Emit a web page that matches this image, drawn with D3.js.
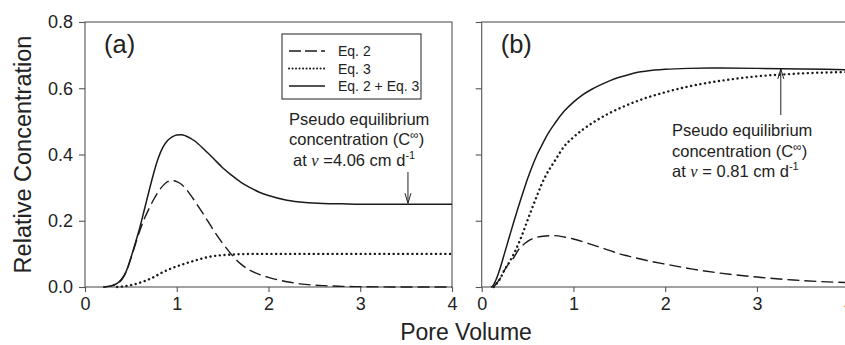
<!DOCTYPE html>
<html><head><meta charset="utf-8">
<script src="https://cdn.jsdelivr.net/npm/d3@7/dist/d3.min.js"></script>
<style>
body{margin:0;background:#fff;}
svg{display:block;font-family:"Liberation Sans",Arial,sans-serif;}
</style></head>
<body>
<svg id="chart" width="845" height="345"></svg>
<script>
// ---- data (Pore Volume, Relative Concentration) ----
const xTicks = [0, 1, 2, 3, 4];
const yTicks = [0.0, 0.2, 0.4, 0.6, 0.8];
const yTickLabels = ["0.0", "0.2", "0.4", "0.6", "0.8"];
const seriesNames = ["Eq. 2", "Eq. 3", "Eq. 2 + Eq. 3"];

// Panel (a)
const aEq2X = [0.2,0.3,0.35,0.4,0.45,0.5,0.55,0.6,0.65,0.7,0.75,0.8,0.85,0.9,0.95,1.0,1.05,1.1,1.2,1.3,1.4,1.5,1.6,1.7,1.8,1.9,2.0,2.2,2.4,2.6,2.8,3.0,3.5,4.0];
const aEq2Y = [0,0.004,0.01,0.022,0.046,0.086,0.13,0.172,0.208,0.238,0.265,0.288,0.306,0.318,0.321,0.318,0.31,0.296,0.258,0.216,0.172,0.132,0.097,0.069,0.05,0.038,0.029,0.016,0.008,0.004,0.002,0.001,0,0];
const aEq3X = [0.35,0.45,0.55,0.65,0.75,0.85,0.95,1.05,1.15,1.25,1.35,1.45,1.55,1.7,1.9,2.5,4.0];
const aEq3Y = [0,0.003,0.009,0.018,0.03,0.045,0.057,0.067,0.076,0.084,0.091,0.095,0.097,0.099,0.1,0.1,0.1];
const aSumX = [0.2,0.3,0.35,0.4,0.45,0.5,0.55,0.6,0.65,0.7,0.75,0.8,0.85,0.9,0.95,1.0,1.05,1.1,1.2,1.3,1.4,1.5,1.6,1.7,1.8,1.9,2.0,2.2,2.4,2.6,2.8,3.0,3.5,4.0];
const aSumY = [0,0.005,0.011,0.024,0.048,0.088,0.134,0.182,0.237,0.292,0.345,0.39,0.422,0.442,0.453,0.459,0.46,0.456,0.44,0.415,0.388,0.36,0.337,0.316,0.3,0.286,0.276,0.262,0.255,0.252,0.251,0.25,0.25,0.25];

// Panel (b)
const bEq2X = [0.13,0.2,0.25,0.3,0.35,0.4,0.45,0.5,0.55,0.6,0.7,0.8,0.9,1.0,1.1,1.2,1.3,1.4,1.5,1.6,1.8,2.0,2.3,2.6,3.0,3.4,4.0];
const bEq2Y = [0,0.025,0.052,0.072,0.089,0.112,0.127,0.138,0.145,0.15,0.154,0.155,0.151,0.145,0.137,0.128,0.119,0.11,0.1,0.093,0.08,0.069,0.054,0.042,0.03,0.021,0.013];
const bEq3X = [0.13,0.2,0.25,0.3,0.35,0.4,0.45,0.5,0.55,0.6,0.65,0.7,0.8,0.9,1.0,1.1,1.2,1.3,1.4,1.5,1.6,1.75,2.0,2.25,2.5,2.75,3.0,3.25,3.5,4.0];
const bEq3Y = [0,0.025,0.052,0.075,0.1,0.13,0.164,0.202,0.238,0.274,0.308,0.337,0.382,0.425,0.452,0.475,0.494,0.511,0.526,0.539,0.551,0.567,0.588,0.605,0.618,0.628,0.636,0.641,0.645,0.649];
const bSumX = [0.1,0.12,0.15,0.2,0.25,0.3,0.35,0.4,0.45,0.5,0.55,0.6,0.65,0.7,0.8,0.9,1.0,1.1,1.2,1.3,1.4,1.5,1.6,1.7,1.8,2.0,2.25,2.5,3.0,3.5,4.0];
const bSumY = [0,0.003,0.018,0.056,0.103,0.15,0.197,0.242,0.285,0.327,0.364,0.397,0.425,0.452,0.495,0.531,0.558,0.58,0.597,0.611,0.623,0.633,0.641,0.648,0.652,0.657,0.66,0.661,0.66,0.658,0.656];

// ---- drawing ----
const svg = d3.select("#chart");
const ink = "#1a1a1a", axisCol = "#555";
const yTop = 22, yBottom = 287;
const y = d3.scaleLinear().domain([0, 0.8]).range([yBottom, yTop]);
const panels = [
  {x: d3.scaleLinear().domain([0,4]).range([85, 452]), label: "(a)", showY: true,
   s: [[aEq2X,aEq2Y],[aEq3X,aEq3Y],[aSumX,aSumY]]},
  {x: d3.scaleLinear().domain([0,4]).range([481.7, 848.7]), label: "(b)", showY: false,
   s: [[bEq2X,bEq2Y],[bEq3X,bEq3Y],[bSumX,bSumY]]}
];
const styles = [
  {dash: "12,5", w: 1.4, cap: "butt"},
  {dash: "0.1,4.6", w: 2.4, cap: "round"},
  {dash: null, w: 1.5, cap: "butt"}
];

panels.forEach(p => {
  const g = svg.append("g");
  const [x0, x1] = p.x.range();
  // frame
  g.append("rect").attr("x", x0).attr("y", yTop).attr("width", x1 - x0).attr("height", yBottom - yTop)
    .attr("fill", "none").attr("stroke", axisCol).attr("stroke-width", 1.1);
  // x axis
  const xa = g.append("g").attr("transform", `translate(0,${yBottom})`)
    .call(d3.axisBottom(p.x).tickValues(xTicks).tickFormat(d3.format("d")).tickSize(5).tickPadding(5));
  xa.select(".domain").remove();
  xa.selectAll("line").attr("stroke", axisCol).attr("stroke-width", 1.1);
  xa.selectAll("text").attr("font-size", 18).attr("fill", "#222").attr("font-family", null);
  // y axis
  const ya = g.append("g").attr("transform", `translate(${x0},0)`)
    .call(d3.axisLeft(y).tickValues(yTicks).tickFormat((d,i) => p.showY ? yTickLabels[i] : "").tickSize(6).tickPadding(6));
  ya.select(".domain").remove();
  ya.selectAll("line").attr("stroke", axisCol).attr("stroke-width", 1.1);
  ya.selectAll("text").attr("font-size", 18).attr("fill", "#222").attr("font-family", null);
  // curves
  p.s.forEach((sd, i) => {
    const pts = sd[0].map((v, k) => [v, sd[1][k]]);
    const line = d3.line().x(d => p.x(d[0])).y(d => y(d[1])).curve(d3.curveMonotoneX);
    g.append("path").attr("d", line(pts)).attr("fill", "none").attr("stroke", ink)
      .attr("stroke-width", styles[i].w).attr("stroke-linecap", styles[i].cap)
      .attr("stroke-dasharray", styles[i].dash);
  });
  g.append("text").attr("x", x0 + 19).attr("y", 53).attr("font-size", 25.5).attr("fill", "#222").text(p.label);
});

// legend
const lg = svg.append("g");
lg.append("rect").attr("x", 282).attr("y", 34).attr("width", 139).attr("height", 65)
  .attr("fill", "#fff").attr("stroke", "#333").attr("stroke-width", 1.1);
const legStyles = [
  {dash: "12,4", w: 1.4, cap: "butt"},
  {dash: "0.1,3.4", w: 2, cap: "round"},
  {dash: null, w: 1.4, cap: "butt"}
];
seriesNames.forEach((n, i) => {
  const cy = 51 + i * 17.5;
  lg.append("line").attr("x1", 289).attr("x2", 325).attr("y1", cy).attr("y2", cy)
    .attr("stroke", ink).attr("stroke-width", legStyles[i].w).attr("stroke-linecap", legStyles[i].cap)
    .attr("stroke-dasharray", legStyles[i].dash);
  lg.append("text").attr("x", 338).attr("y", cy).attr("dy", "0.36em").attr("font-size", 14).attr("fill", "#222").text(n);
});

// annotations
function annot(xs, ys, lines, vText) {
  const t = svg.append("g").attr("font-size", 16.5).attr("fill", "#222");
  t.append("text").attr("x", xs[0]).attr("y", ys[0]).text(lines[0]);
  const l2 = t.append("text").attr("x", xs[1]).attr("y", ys[1]);
  l2.append("tspan").text("concentration (C");
  l2.append("tspan").attr("font-size", 12).attr("dy", -6).text("\u221E");
  l2.append("tspan").attr("dy", 6).text(")");
  const l3 = t.append("text").attr("x", xs[2]).attr("y", ys[2]);
  l3.append("tspan").text("at ");
  l3.append("tspan").attr("font-family", "'Liberation Serif','Times New Roman',serif").attr("font-style", "italic").text("\u03BD");
  l3.append("tspan").text(vText);
  l3.append("tspan").attr("font-size", 11).attr("dy", -7).text("-1");
}
annot([289, 289, 293], [124.5, 145, 165.5], ["Pseudo equilibrium"], " =4.06 cm d");
annot([672, 672, 672], [136, 156.7, 177.3], ["Pseudo equilibrium"], " = 0.81 cm d");

// arrows
function arrow(xp, y1, y2) {
  const g = svg.append("g").attr("stroke", "#222").attr("stroke-width", 1).attr("fill", "none");
  g.append("line").attr("x1", xp).attr("x2", xp).attr("y1", y1).attr("y2", y2);
  const dir = y2 > y1 ? -1 : 1;
  g.append("path").attr("d", `M${xp-3},${y2 + dir*10} L${xp},${y2} L${xp+3},${y2 + dir*10}`);
}
arrow(panels[0].x(3.52), 172, y(0.25) - 1);
arrow(panels[1].x(3.26), 115, y(0.66) + 0.5);

// axis titles
svg.append("text").attr("transform", `translate(31,${(yTop+yBottom)/2}) rotate(-90)`)
  .attr("text-anchor", "middle").attr("font-size", 23.5).attr("fill", "#222").text("Relative Concentration");
svg.append("text").attr("x", 466).attr("y", 340).attr("text-anchor", "middle")
  .attr("font-size", 23).attr("fill", "#222").text("Pore Volume");
</script>
</body></html>
